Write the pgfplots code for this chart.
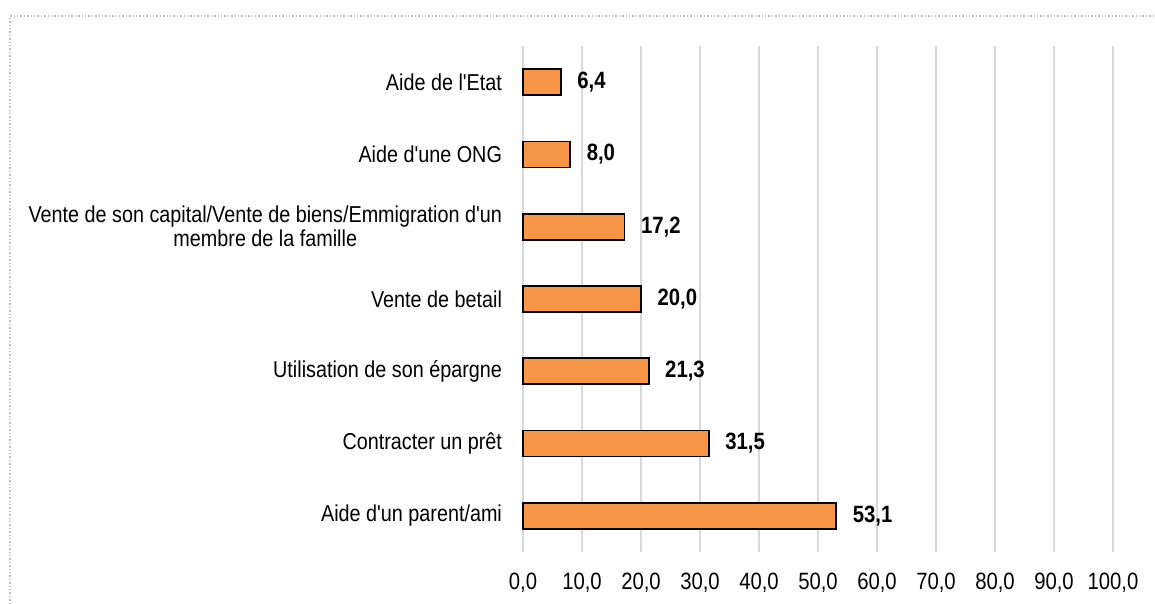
\documentclass[border=0pt]{standalone}
\usepackage{fontspec}
\setmainfont{Liberation Sans}
\newfontfamily\lab{Liberation Sans}[FakeStretch=0.86]
\usepackage{pgfplots}
\pgfplotsset{compat=1.18}
\definecolor{barorange}{RGB}{247,150,70}
\definecolor{gridgray}{RGB}{217,217,217}
\begin{document}
\begin{tikzpicture}
\useasboundingbox (0,0) rectangle (577.5pt,302pt);
\draw[black!25, densely dotted, line width=0.7pt] (5pt,0) -- (5pt,294pt) -- (577.5pt,294pt);
\begin{axis}[
  at={(261.5pt,26pt)}, anchor=south west,
  scale only axis, width=295pt, height=253pt,
  xmin=0, xmax=100, ymin=-0.5, ymax=6.5,
  xbar, bar width=13pt, bar shift=0pt,
  clip=false,
  axis line style={draw=none},
  major tick length=0pt,
  xtick={0,10,...,100},
  ytick={0,...,6},
  yticklabels={Aide d'un parent/ami, Contracter un prêt, Utilisation de son épargne, Vente de betail, {Vente de son capital/Vente de biens/Emmigration d'un\\membre de la famille}, Aide d'une ONG, Aide de l'Etat},
  xmajorgrids, ymajorgrids=false,
  major grid style={gridgray, line width=0.8pt},
  xticklabel style={font=\lab\fontsize{11.8pt}{13.5pt}\selectfont, yshift=-7pt,
    /pgf/number format/.cd, fixed, fixed zerofill, precision=1, use comma, assume math mode=true},
  yticklabel style={font=\lab\fontsize{11.5pt}{12pt}\selectfont, align=center, xshift=-7pt},
]
\addplot[fill=barorange, draw=black, line width=0.9pt,
  point meta=x,
  nodes near coords={\pgfmathprintnumber[fixed, fixed zerofill, precision=1, use comma, assume math mode=true]{\pgfplotspointmeta}},
  nodes near coords style={anchor=west, xshift=4.5pt, font=\lab\bfseries\fontsize{11.8pt}{13.5pt}\selectfont, text=black}]
  coordinates {(53.1,0) (31.5,1) (21.3,2) (20.0,3) (17.2,4) (8.0,5) (6.4,6)};
\end{axis}
\end{tikzpicture}
\end{document}
